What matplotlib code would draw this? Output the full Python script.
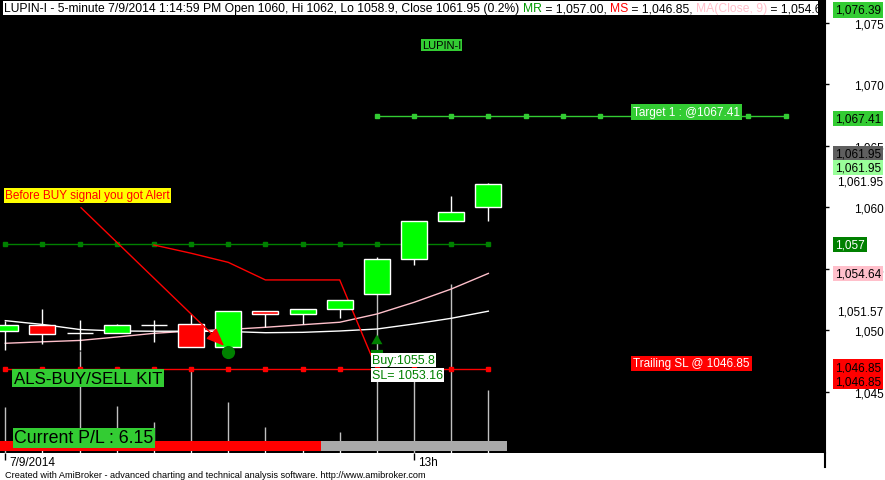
import matplotlib
matplotlib.use('Agg')
import matplotlib.pyplot as plt
from matplotlib.patches import Rectangle
from matplotlib.lines import Line2D

plt.rcParams['font.family'] = ['Liberation Sans', 'DejaVu Sans']

# ---- data (5-minute bars, LUPIN-I, 7/9/2014) ----
bars = list(range(14))
opens = [1049.96, 1050.45, 1049.77, 1049.77, 1050.47, 1050.50, 1048.63,
         1051.56, 1051.32, 1051.72, 1052.99, 1055.79, 1058.88, 1060.00]
highs = [1050.77, 1051.75, 1050.85, 1050.53, 1050.85, 1051.34, 1051.56,
         1051.56, 1051.72, 1052.46, 1055.95, 1058.88, 1060.93, 1062.00]
lows = [1048.41, 1048.94, 1048.41, 1049.77, 1049.04, 1048.63, 1048.63,
        1050.26, 1050.55, 1051.04, 1052.99, 1055.35, 1058.88, 1058.90]
closes = [1050.45, 1049.74, 1049.77, 1050.45, 1050.47, 1048.63, 1051.56,
          1051.32, 1051.72, 1052.46, 1055.79, 1058.88, 1059.61, 1061.95]
volumes = [4600, 1200, 10200, 4700, 3100, 8200, 5100,
           2600, 1200, 2100, 15900, 9500, 16900, 6300]

white_avg = [1050.80, 1050.49, 1050.08, 1049.96, 1049.94, 1049.94, 1049.92,
             1049.82, 1049.85, 1049.96, 1050.12, 1050.53, 1050.99, 1051.57]
ma9 = [1048.96, 1049.08, 1049.19, 1049.47, 1049.77, 1049.96, 1050.08,
       1050.26, 1050.47, 1050.67, 1051.34, 1052.29, 1053.37, 1054.64]

mr_level = 1057.00
ms_level = 1046.85
target_level = 1067.41
target_bars = list(range(10, 22))

trail_bars = [4, 5, 6, 7, 8, 9, 10]
trail_vals = [1056.95, 1056.28, 1055.54, 1054.11, 1054.11, 1054.11, 1046.85]

trade_state = [0, 0, 0, 0, 0, 0, 0, 0, 0, 1, 1, 1, 1, 1]  # 0 red, 1 grey

buy_bar = 10
buy_price = 1055.8
buy_sl = 1053.16
alert_bar = 6
alert_from = (1.98, 1060.15)
pl_value = 6.15

# right-axis value labels: (value, text, background, text colour, pixel shift)
axis_labels = [
    (1067.41, '1,067.41', '#33cc33', 'black', -2),
    (1061.95, '1,061.95', '#5f5f5f', 'black', 30),
    (1061.95, '1,061.95', '#99ff99', 'black', 16),
    (1057.00, '1,057', '#008000', 'white', 0),
    (1054.64, '1,054.64', '#ffc0cb', 'black', 0),
    (1046.85, '1,046.85', '#ff0000', 'black', 2),
    (1046.85, '1,046.85', '#ff0000', 'black', -12),
]
plain_labels = [(1061.95, '1,061.95', 2), (1051.57, '1,051.57', 0)]

YMIN, YMAX = 1040.04, 1076.95
XMIN, XMAX = -0.143, 22.06

# ---- figure ----
fig = plt.figure(figsize=(8.85, 4.81), dpi=100, facecolor='white')
rect = [0, 27 / 481, 825 / 885, 454 / 481]

ax_vol = fig.add_axes(rect, zorder=0, facecolor='black')
ax_vol.set_xlim(XMIN, XMAX)
ax_vol.set_ylim(0, 45400)
ax_vol.set_xticks([])
ax_vol.set_yticks([])
for s in ax_vol.spines.values():
    s.set_visible(False)
ax_vol.vlines(bars, 0, volumes, color='#c0c0c0', lw=1)

ax = fig.add_axes(rect, zorder=1, facecolor='none')
ax.set_xlim(XMIN, XMAX)
ax.set_ylim(YMIN, YMAX)

# levels
ax.plot(bars, [mr_level] * len(bars), color='#008000', lw=1, marker='s', ms=2.5)
ax.plot(bars, [ms_level] * len(bars), color='#ff0000', lw=1, marker='s', ms=2.5)
ax.plot(target_bars, [target_level] * len(target_bars), color='#33cc33', lw=1,
        marker='s', ms=2.5)

# averages
ax.plot(bars, ma9, color='#ffc0cb', lw=1)
ax.plot(bars, white_avg, color='white', lw=1)
ax.plot(trail_bars, trail_vals, color='#ff0000', lw=1)

# candles
ax.vlines(bars, lows, highs, color='white', lw=1, zorder=3)
body_col = ['#00ff00' if c >= o else '#ff0000' for o, c in zip(opens, closes)]
heights = [c - o for o, c in zip(opens, closes)]
ax.bar(bars, heights, bottom=opens, width=0.7, color=body_col,
       edgecolor='white', linewidth=1, zorder=4)

# alert annotation
ax.text(0, 1061.0, 'Before BUY signal you got Alert', color='#ff0000', fontsize=8.5,
        ha='left', va='center', zorder=6,
        bbox=dict(boxstyle='square,pad=0.12', fc='#ffff00', ec='none'))
ax.annotate('', xy=(alert_bar - 0.06, 1048.6), xytext=alert_from,
            arrowprops=dict(arrowstyle='-|>,head_length=1.1,head_width=0.45',
                            color='#ff0000', lw=1), zorder=6)
ax.plot(alert_bar, 1048.25, 'o', color='#008000', ms=8.5, zorder=6)

# buy arrow and text
ax.annotate('', xy=(buy_bar, 1049.9), xytext=(buy_bar, 1048.7),
            arrowprops=dict(arrowstyle='simple,head_length=0.7,head_width=0.8,tail_width=0.35',
                            color='#008000', lw=0), zorder=6)
ax.plot(buy_bar, 1048.25, marker='_', color='#008000', ms=9, mew=3, zorder=6)
ax.annotate(f'Buy:{buy_price}', xy=(buy_bar, 1048.09), xytext=(-5, 0),
            textcoords='offset pixels', ha='left', va='top', color='#008000',
            fontsize=9, zorder=7,
            bbox=dict(boxstyle='square,pad=0.1', fc='white', ec='none'))
ax.annotate(f'SL= {buy_sl}', xy=(buy_bar, 1048.09), xytext=(-5, -15),
            textcoords='offset pixels', ha='left', va='top', color='#008000',
            fontsize=9, zorder=7,
            bbox=dict(boxstyle='square,pad=0.1', fc='white', ec='none'))

ax.text(16.9, 1067.75, f'Target 1 : @{target_level}', color='white', fontsize=8.5,
        ha='left', va='center', zorder=6,
        bbox=dict(boxstyle='square,pad=0.15', fc='#33cc33', ec='none'))
ax.text(16.9, 1047.33, f'Trailing SL @ {ms_level}', color='white', fontsize=8.5,
        ha='left', va='center', zorder=6,
        bbox=dict(boxstyle='square,pad=0.15', fc='#ff0000', ec='none'))

ax.text(441.5 / 825, 1 - 46 / 454, 'LUPIN-I', transform=ax.transAxes, fontsize=8,
        ha='center', va='center', color='black',
        bbox=dict(boxstyle='square,pad=0.1', fc='#33cc33', ec='none'))

# trade ribbon
rib_col = ['#ff0000' if s == 0 else '#a9a9a9' for s in trade_state]
ax.bar(bars, [0.022] * len(bars), bottom=0.005, width=1.0, color=rib_col,
       transform=ax.get_xaxis_transform(), zorder=5)

ax.text(14 / 825, 1 - 379 / 454, 'ALS-BUY/SELL KIT', transform=ax.transAxes,
        fontsize=12.2, ha='left', va='center', color='black', zorder=7,
        bbox=dict(boxstyle='square,pad=0.1', fc='#33cc33', ec='none'))
ax.text(14 / 825, 1 - 439 / 454, f'Current P/L : {pl_value}', transform=ax.transAxes,
        fontsize=12.8, ha='left', va='center', color='black', zorder=7,
        bbox=dict(boxstyle='square,pad=0.08', fc='#33cc33', ec='none'))

# title bar
ax.add_patch(Rectangle((3 / 825, 1 - 16 / 454), 815 / 825, 14 / 454,
                       transform=ax.transAxes, fc='white', ec='none', zorder=8))
segments = [
    ('LUPIN-I - 5-minute 7/9/2014 1:14:59 PM Open 1060, Hi 1062, Lo 1058.9, '
     'Close 1061.95 (0.2%) ', 'black'),
    ('MR', '#009900'),
    (' = 1,057.00, ', 'black'),
    ('MS', '#ff0000'),
    (' = 1,046.85, ', 'black'),
    ('MA(Close, 9)', '#ffc0cb'),
    (' = 1,054.64', 'black'),
]
prev = ax.text(4 / 825, 1 - 9 / 454, segments[0][0], transform=ax.transAxes,
               fontsize=8.7, color=segments[0][1], ha='left', va='center', zorder=9,
               clip_on=True)
for seg, col in segments[1:]:
    prev = ax.annotate(seg, xy=(1, 0), xycoords=prev, ha='left', va='bottom',
                       fontsize=8.7, color=col, zorder=9, clip_on=True)

# right axis
ax.yaxis.tick_right()
ax.set_yticks([1045, 1050, 1055, 1060, 1065, 1070, 1075])
ax.set_yticklabels(['1,045', '1,050', '1,055', '1,060', '1,065', '1,070', '1,075'])
ax.tick_params(axis='y', length=3, width=1, color='black', labelsize=8.5, pad=39)
for lab in ax.get_yticklabels():
    lab.set_horizontalalignment('right')
for s in ['top', 'left', 'bottom']:
    ax.spines[s].set_visible(False)
ax.spines['right'].set_color('black')
ax.spines['right'].set_linewidth(1.5)
fig.add_artist(Line2D([824.5 / 885] * 2, [13 / 481, 27 / 481], color='black', lw=1.5))

ax.annotate('1,076.39', xy=(1, YMAX), xycoords=ax.get_yaxis_transform(),
            xytext=(10, -11), textcoords='offset pixels', ha='left', va='center',
            fontsize=8.5, color='black', annotation_clip=False,
            bbox=dict(boxstyle='square,pad=0.15', fc='#33cc33', ec='none'))
for val, txt, bg, fg, dy in axis_labels:
    ax.annotate(txt, xy=(1, val), xycoords=ax.get_yaxis_transform(),
                xytext=(10, dy), textcoords='offset pixels', ha='left', va='center',
                fontsize=8.5, color=fg, annotation_clip=False,
                bbox=dict(boxstyle='square,pad=0.15', fc=bg, ec='none'))
for val, txt, dy in plain_labels:
    ax.annotate(txt, xy=(1, val), xycoords=ax.get_yaxis_transform(),
                xytext=(58, dy), textcoords='offset pixels', ha='right', va='center',
                fontsize=8.5, color='black', annotation_clip=False)

# x axis
ax.set_xticks([0, 11])
ax.set_xticklabels(['', ''])
ax.tick_params(axis='x', length=5, width=1, color='black', direction='out')
ax.set_xticks(bars, minor=True)
ax.tick_params(axis='x', which='minor', length=2, color='white', direction='in')
for b, txt in [(0, '7/9/2014'), (11, '13h')]:
    ax.annotate(txt, xy=(b, 0), xycoords=ax.get_xaxis_transform(), xytext=(4, -9),
                textcoords='offset pixels', ha='left', va='center', fontsize=8.5,
                annotation_clip=False)

fig.text(5 / 885, 1 - 475.5 / 481,
         'Created with AmiBroker - advanced charting and technical analysis software. '
         'http://www.amibroker.com', fontsize=6.6, ha='left', va='center')

fig.savefig('out.png', dpi=100, facecolor='white')
